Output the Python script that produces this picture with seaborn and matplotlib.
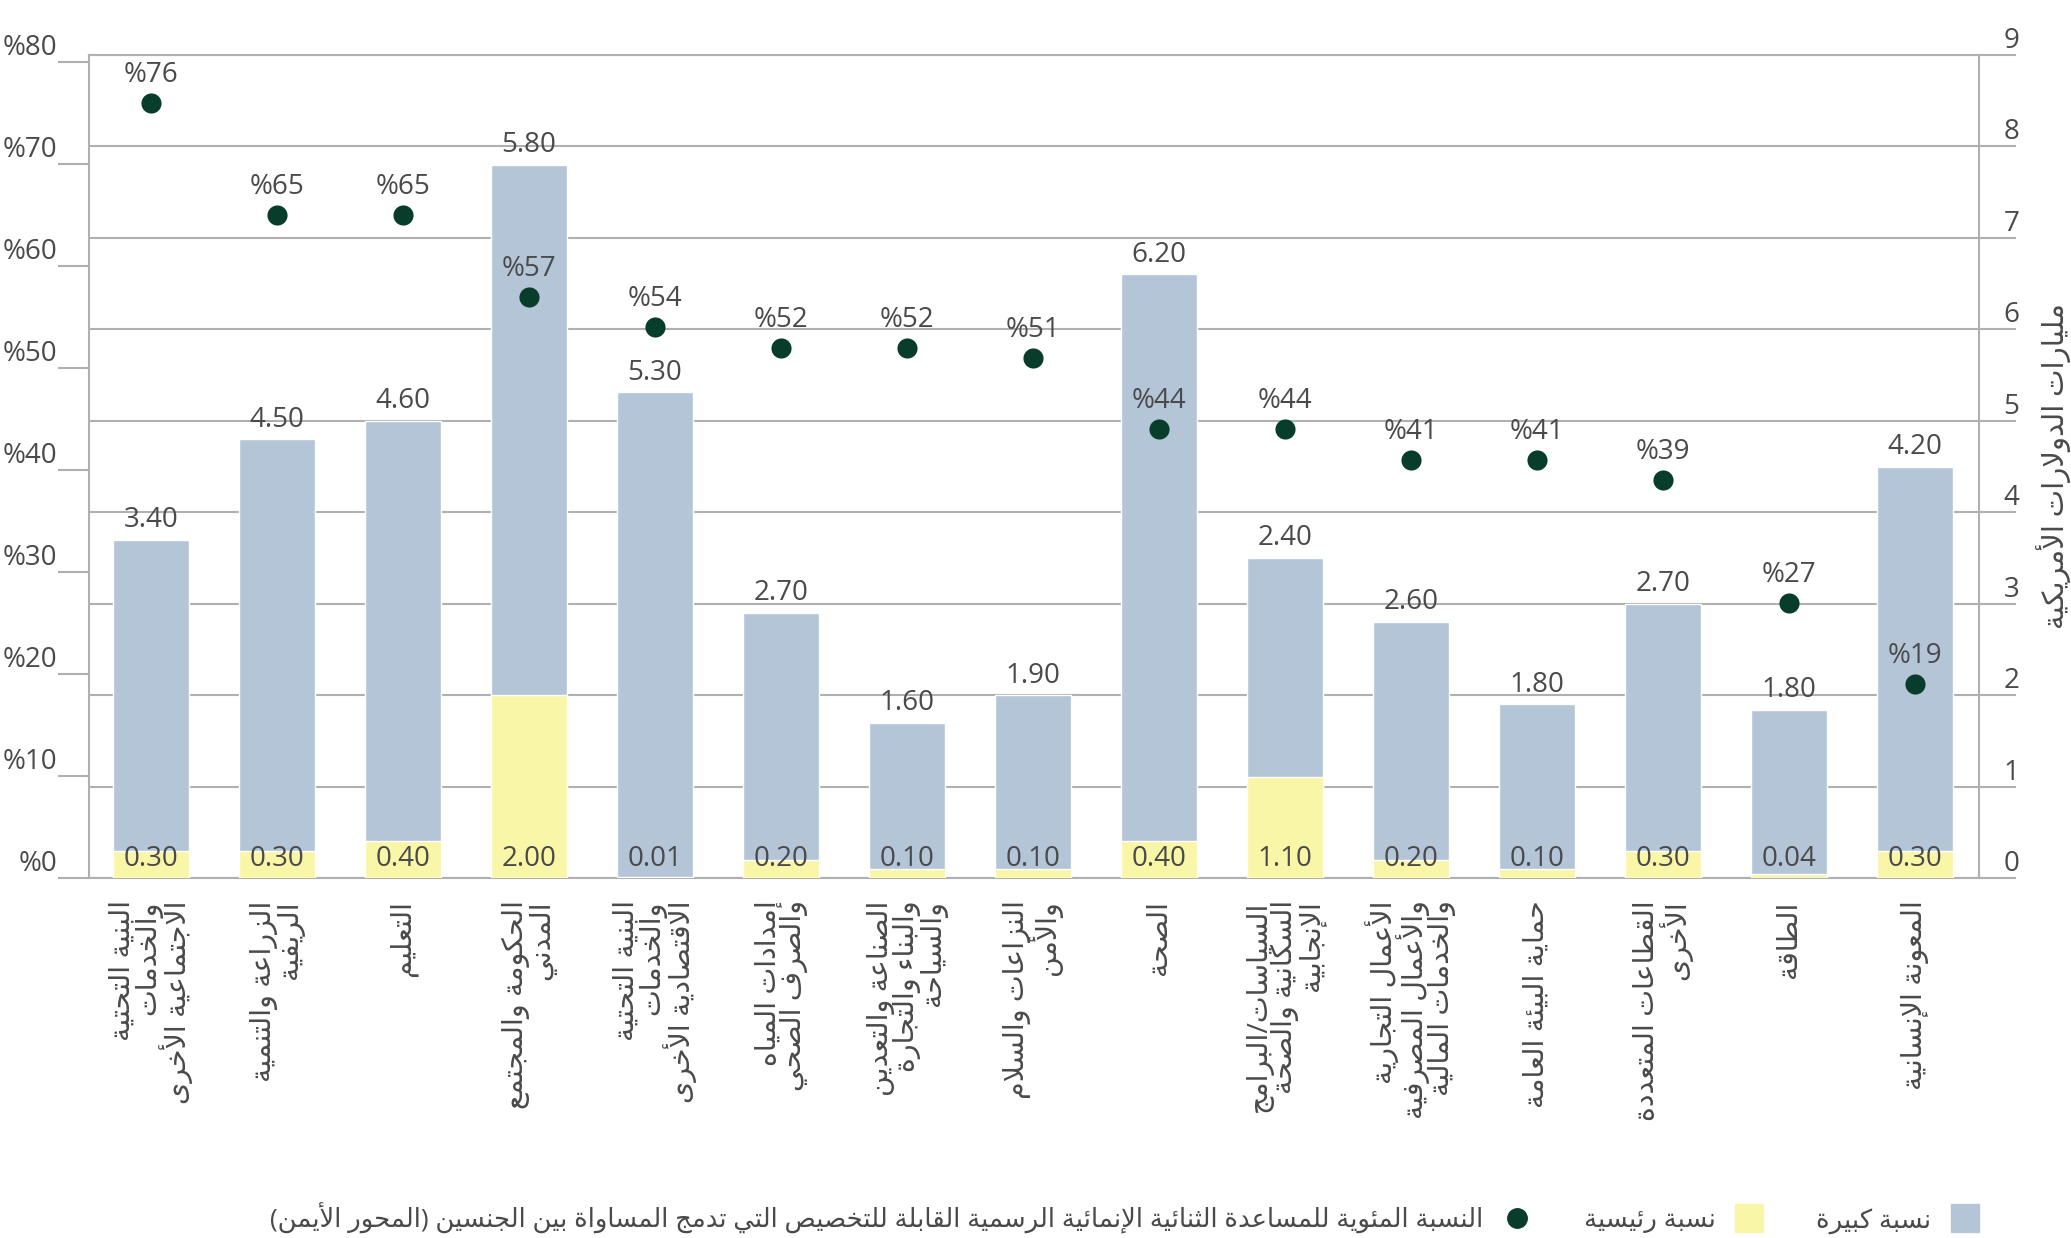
import unicodedata
import numpy as np
import pandas as pd
import seaborn as sns
import matplotlib.pyplot as plt
from matplotlib.lines import Line2D
from matplotlib.ticker import FixedLocator, FuncFormatter

sns.set_theme(style="white")
plt.rcParams["font.family"] = ["Open Sans", "DejaVu Sans"]

# ---- data -------------------------------------------------------------
sectors = [
    "البنية التحتية\nوالخدمات\nالاجتماعية الأخرى",
    "الزراعة والتنمية\nالريفية",
    "التعليم",
    "الحكومة والمجتمع\nالمدني",
    "البنية التحتية\nوالخدمات\nالاقتصادية الأخرى",
    "إمدادات المياه\nوالصرف الصحي",
    "الصناعة والتعدين\nوالبناء والتجارة\nوالسياحة",
    "النزاعات والسلام\nوالأمن",
    "الصحة",
    "السياسات/البرامج\nالسكانية والصحة\nالإنجابية",
    "الأعمال التجارية\nوالأعمال المصرفية\nوالخدمات المالية",
    "حماية البيئة العامة",
    "القطاعات المتعددة\nالأخرى",
    "الطاقة",
    "المعونة الإنسانية",
]
significant = [3.40, 4.50, 4.60, 5.80, 5.30, 2.70, 1.60, 1.90, 6.20, 2.40, 2.60, 1.80, 2.70, 1.80, 4.20]
principal = [0.30, 0.30, 0.40, 2.00, 0.01, 0.20, 0.10, 0.10, 0.40, 1.10, 0.20, 0.10, 0.30, 0.04, 0.30]
share_pct = [76, 65, 65, 57, 54, 52, 52, 51, 44, 44, 41, 41, 39, 27, 19]

legend_labels = [
    "النسبة المئوية للمساعدة الثنائية الإنمائية الرسمية القابلة للتخصيص التي تدمج المساواة بين الجنسين (المحور الأيمن)",
    "نسبة رئيسية",
    "نسبة كبيرة",
]
right_title = "مليارات الدولارات الأمريكية"

BLUE = "#b3c5d7"
YELLOW = "#faf6a8"
DOT = "#093d2b"
GRID = "#b0b0b0"
TXT = "#4a4a4a"

# ---- minimal arabic shaping (matplotlib has no complex text layout) ---
_FORMS, _LIGS = {}, {}
for cp in range(0xFE70, 0xFEFD):
    dec = unicodedata.decomposition(chr(cp)).split()
    if len(dec) < 2 or dec[0] not in ("<isolated>", "<final>", "<initial>", "<medial>"):
        continue
    base = "".join(chr(int(h, 16)) for h in dec[1:])
    (_FORMS if len(base) == 1 else _LIGS).setdefault(base, {})[dec[0][1:-1]] = chr(cp)


def _joins_next(u):
    if len(u) == 2:
        return False
    f = _FORMS.get(u, {})
    return "initial" in f or "medial" in f


def _joins_prev(u):
    if len(u) == 2:
        return True
    f = _FORMS.get(u, {})
    return "final" in f or "medial" in f


def shape(s):
    units, i = [], 0
    while i < len(s):
        if s[i] == "ل" and i + 1 < len(s) and ("ل" + s[i + 1]) in _LIGS:
            units.append("ل" + s[i + 1])
            i += 2
        else:
            units.append(s[i])
            i += 1
    out = []
    for k, u in enumerate(units):
        table = _LIGS.get(u) if len(u) == 2 else _FORMS.get(u)
        if not table:
            out.append(u)
            continue
        r = k > 0 and _joins_next(units[k - 1]) and _joins_prev(u)
        l = k + 1 < len(units) and _joins_prev(units[k + 1]) and _joins_next(u)
        form = "medial" if (r and l) else "final" if r else "initial" if l else "isolated"
        out.append(table.get(form, table.get("isolated", u)))
    return "".join(out)


def ar(text):
    mirror = str.maketrans("()", ")(")
    return "\n".join(shape(line)[::-1].translate(mirror) for line in text.split("\n"))


# ---- plot -------------------------------------------------------------
df = pd.DataFrame({
    "pos": np.arange(len(sectors)),
    "significant": significant,
    "principal": principal,
    "share": share_pct,
})
df["total"] = df["significant"] + df["principal"]

fig = plt.figure(figsize=(20.71, 12.38), dpi=100)
ax = fig.add_axes([89 / 2071, 1 - 878 / 1238, (1979 - 89) / 2071, (878 - 55) / 1238])
ax2 = ax.twinx()  # percentages (left scale), drawn above the bars

sns.barplot(data=df, x="pos", y="total", color=BLUE, width=0.6, saturation=1, ax=ax, zorder=2)
sns.barplot(data=df, x="pos", y="principal", color=YELLOW, width=0.6, saturation=1, ax=ax, zorder=3)
sns.scatterplot(data=df, x="pos", y="share", color=DOT, s=210, linewidth=0, ax=ax2, zorder=6)

# billions scale -> right side
ax.set_ylim(0, 9)
ax.set_xlabel("")
ax.set_ylabel("")
ax.yaxis.tick_right()
ax.yaxis.set_label_position("right")
ax.yaxis.set_major_locator(FixedLocator(range(0, 10)))
ax.grid(axis="y", color=GRID, linewidth=1.5, zorder=0)
ax.set_axisbelow(True)
ax.tick_params(axis="y", which="major", direction="out", length=26.5, width=1.5,
               color=GRID, pad=2.5, labelsize=20, labelcolor=TXT)
for sp in ax.spines.values():
    sp.set_color(GRID)
    sp.set_linewidth(1.5)

ax.set_xticks(df["pos"])
ax.set_xticklabels([ar(s) for s in sectors], rotation=90, ha="center", va="top",
                   multialignment="right", fontsize=20.5, linespacing=0.9, color=TXT)
ax.tick_params(axis="x", length=0, pad=16)

for _, row in df.iterrows():
    ax.annotate(f"{row['significant']:.2f}", (row["pos"], row["total"]), xytext=(0, 9),
                textcoords="offset points", ha="center", va="baseline", fontsize=20, color=TXT)
    ax.annotate(f"{row['principal']:.2f}", (row["pos"], 0), xytext=(0, 9),
                textcoords="offset points", ha="center", va="baseline", fontsize=20,
                color=TXT, zorder=5)

# percentage scale -> left side
ax2.set_ylim(0, 80 * 823 / 816)
ax2.yaxis.tick_left()
ax2.yaxis.set_label_position("left")
ax2.set_ylabel("")
ax2.set_xlabel("")
ax2.yaxis.set_major_locator(FixedLocator(range(0, 81, 10)))
ax2.yaxis.set_major_formatter(FuncFormatter(lambda v, p: f"%{v:.0f}"))
ax2.tick_params(axis="y", direction="out", length=22, width=1.5, color=GRID, pad=1,
                labelsize=20, labelcolor=TXT)
for sp in ax2.spines.values():
    sp.set_visible(False)
for _, row in df.iterrows():
    ax2.annotate(f"%{row['share']:.0f}", (row["pos"], row["share"]), xytext=(0, 15),
                 textcoords="offset points", ha="center", va="baseline", fontsize=20, color=TXT)

ax.set_xlim(-0.49, len(sectors) - 0.49)

fig.text(2054 / 2071, 1 - 466 / 1238, ar(right_title), rotation=90, ha="center", va="center",
         fontsize=21, color=TXT)

handles = [
    Line2D([], [], marker="o", linestyle="", color=DOT, markersize=14),
    Line2D([], [], marker="s", linestyle="", color=YELLOW, markersize=19.5),
    Line2D([], [], marker="s", linestyle="", color=BLUE, markersize=19.5),
]
fig.legend(handles, [ar(s) for s in legend_labels], loc="center right",
           bbox_to_anchor=(1978 / 2071, 1 - 1218 / 1238), ncol=3, markerfirst=False,
           frameon=False, fontsize=18.6, handlelength=1.0, handletextpad=0.8,
           columnspacing=2.1, borderpad=0, borderaxespad=0, labelcolor=TXT)

# tick label alignment: labels sit just above their tick marks
fig.canvas.draw()
for t in ax.yaxis.get_ticklabels(which="major"):
    t.set_horizontalalignment("right")
    t.set_verticalalignment("bottom")
for t in ax2.yaxis.get_ticklabels(which="major"):
    t.set_verticalalignment("bottom")

fig.savefig("out.png", dpi=100, facecolor="white")
